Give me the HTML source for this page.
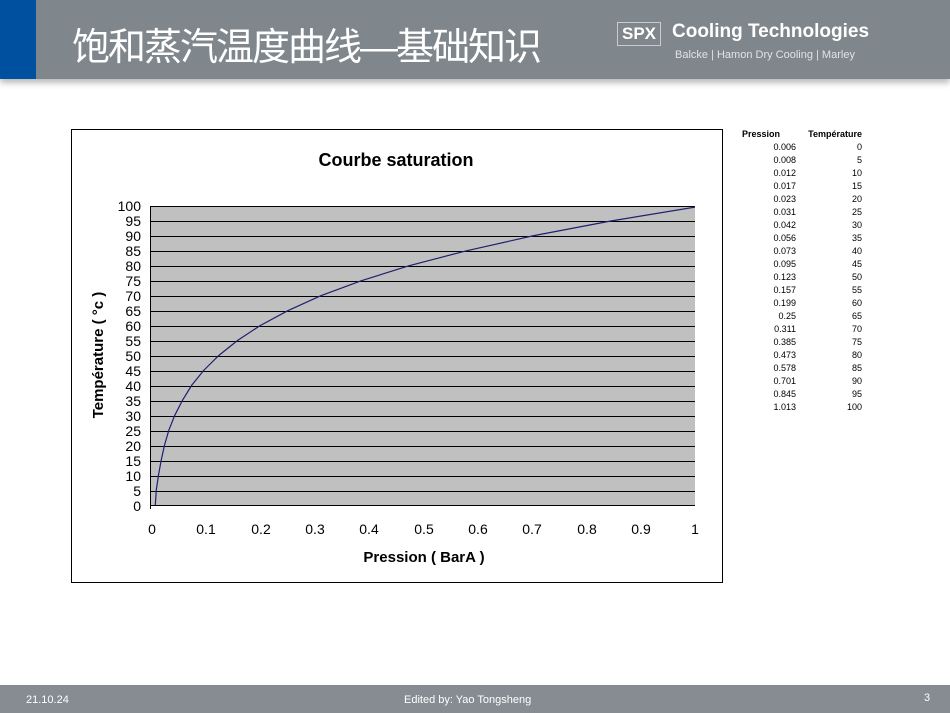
<!DOCTYPE html>
<html><head><meta charset="utf-8"><style>
body{margin:0;width:950px;height:713px;background:#fff;position:relative;overflow:hidden;font-family:"Liberation Sans",Arial,sans-serif}
.hdr{position:absolute;left:0;top:0;width:950px;height:79px;background:#7f878d;box-shadow:0 4px 6px #bbb}
.blue{position:absolute;left:0;top:0;width:36px;height:79px;background:#0050a0}
.title{position:absolute;left:72px;top:16px;font:38px "Liberation Sans","Noto Sans CJK SC",sans-serif;color:#fff;letter-spacing:-2px}
.spx{position:absolute;left:617px;top:22px;border:1px solid #c8ccd0;color:#fff;font:bold 17px "Liberation Sans",sans-serif;padding:0 4px;height:22px;line-height:22px}
.ct{position:absolute;left:672px;top:21px;color:#fff;font:bold 19px "Liberation Sans",sans-serif}
.sub{position:absolute;left:675px;top:49px;color:#e0e3e6;font:11px "Liberation Sans",sans-serif}
.ftr{position:absolute;left:0;top:685px;width:950px;height:28px;background:#868c92;color:#fff;font-size:11px}
table{position:absolute;left:742px;top:127px;border-collapse:collapse;font-size:9px;color:#000}
td{padding:0;height:13px;text-align:right}
</style></head><body>
<div class="hdr"><div class="blue"></div>
<div class="title">饱和蒸汽温度曲线—基础知识</div>
<div class="spx">SPX</div><div class="ct">Cooling Technologies</div>
<div class="sub">Balcke | Hamon Dry Cooling | Marley</div></div>
<svg style="position:absolute;left:0;top:0" width="950" height="713">
<rect x="71.5" y="129.5" width="651" height="453" fill="#fff" stroke="#000"/>
<text x="396" y="166" font-size="18" font-weight="bold" text-anchor="middle" font-family="Liberation Sans">Courbe saturation</text>
<rect x="151" y="206" width="544" height="299" fill="#c0c0c0"/>
<g stroke="#000" stroke-width="1">
<line x1="151" y1="206.5" x2="695" y2="206.5"/><line x1="151" y1="221.5" x2="695" y2="221.5"/><line x1="151" y1="236.5" x2="695" y2="236.5"/><line x1="151" y1="251.5" x2="695" y2="251.5"/><line x1="151" y1="266.5" x2="695" y2="266.5"/><line x1="151" y1="281.5" x2="695" y2="281.5"/><line x1="151" y1="296.5" x2="695" y2="296.5"/><line x1="151" y1="311.5" x2="695" y2="311.5"/><line x1="151" y1="326.5" x2="695" y2="326.5"/><line x1="151" y1="341.5" x2="695" y2="341.5"/><line x1="151" y1="356.5" x2="695" y2="356.5"/><line x1="151" y1="371.5" x2="695" y2="371.5"/><line x1="151" y1="386.5" x2="695" y2="386.5"/><line x1="151" y1="401.5" x2="695" y2="401.5"/><line x1="151" y1="416.5" x2="695" y2="416.5"/><line x1="151" y1="431.5" x2="695" y2="431.5"/><line x1="151" y1="446.5" x2="695" y2="446.5"/><line x1="151" y1="461.5" x2="695" y2="461.5"/><line x1="151" y1="476.5" x2="695" y2="476.5"/><line x1="151" y1="491.5" x2="695" y2="491.5"/><line x1="151" y1="505.5" x2="695" y2="505.5"/>
<line x1="150.5" y1="206" x2="150.5" y2="509"/>
</g>
<clipPath id="c"><rect x="151" y="200" width="544" height="306"/></clipPath>
<polyline clip-path="url(#c)" fill="none" stroke="#202070" stroke-width="1.2" points="155.3,505 156.3,490.1 158.5,475.1 161.2,460.2 164.5,445.2 168.8,430.3 174.8,415.3 182.4,400.4 191.6,385.4 203.6,370.5 218.8,355.5 237.3,340.6 260.1,325.6 287.8,310.7 320.9,295.7 361.1,280.8 408.8,265.8 465.9,250.9 532.6,235.9 610.8,221 702.1,206"/>
<g font-size="14" font-family="Liberation Sans" text-anchor="end">
<text x="141" y="211">100</text><text x="141" y="226">95</text><text x="141" y="241">90</text><text x="141" y="256">85</text><text x="141" y="271">80</text><text x="141" y="286">75</text><text x="141" y="301">70</text><text x="141" y="316">65</text><text x="141" y="331">60</text><text x="141" y="346">55</text><text x="141" y="361">50</text><text x="141" y="376">45</text><text x="141" y="391">40</text><text x="141" y="406">35</text><text x="141" y="421">30</text><text x="141" y="436">25</text><text x="141" y="451">20</text><text x="141" y="466">15</text><text x="141" y="481">10</text><text x="141" y="496">5</text><text x="141" y="511">0</text>
</g>
<g font-size="14" font-family="Liberation Sans" text-anchor="middle">
<text x="152" y="534">0</text><text x="206" y="534">0.1</text><text x="261" y="534">0.2</text><text x="315" y="534">0.3</text><text x="369" y="534">0.4</text><text x="424" y="534">0.5</text><text x="478" y="534">0.6</text><text x="532" y="534">0.7</text><text x="587" y="534">0.8</text><text x="641" y="534">0.9</text><text x="695" y="534">1</text>
</g>
<text x="424" y="562" font-size="15" font-weight="bold" text-anchor="middle" font-family="Liberation Sans">Pression ( BarA )</text>
<text transform="translate(103,355) rotate(-90)" font-size="15" font-weight="bold" text-anchor="middle" font-family="Liberation Sans">Température ( °c )</text>
</svg>
<table>
<tr><td style="text-align:left;font-weight:bold;width:54px">Pression</td><td style="font-weight:bold;width:66px">Température</td></tr>
<tr><td>0.006</td><td>0</td></tr><tr><td>0.008</td><td>5</td></tr><tr><td>0.012</td><td>10</td></tr><tr><td>0.017</td><td>15</td></tr><tr><td>0.023</td><td>20</td></tr><tr><td>0.031</td><td>25</td></tr><tr><td>0.042</td><td>30</td></tr><tr><td>0.056</td><td>35</td></tr><tr><td>0.073</td><td>40</td></tr><tr><td>0.095</td><td>45</td></tr><tr><td>0.123</td><td>50</td></tr><tr><td>0.157</td><td>55</td></tr><tr><td>0.199</td><td>60</td></tr><tr><td>0.25</td><td>65</td></tr><tr><td>0.311</td><td>70</td></tr><tr><td>0.385</td><td>75</td></tr><tr><td>0.473</td><td>80</td></tr><tr><td>0.578</td><td>85</td></tr><tr><td>0.701</td><td>90</td></tr><tr><td>0.845</td><td>95</td></tr><tr><td>1.013</td><td>100</td></tr>
</table>
<div class="ftr"><span style="position:absolute;left:26px;top:9px">21.10.24</span><span style="position:absolute;left:404px;top:9px">Edited by: Yao Tongsheng</span><span style="position:absolute;left:924px;top:7px">3</span></div>
</body></html>
